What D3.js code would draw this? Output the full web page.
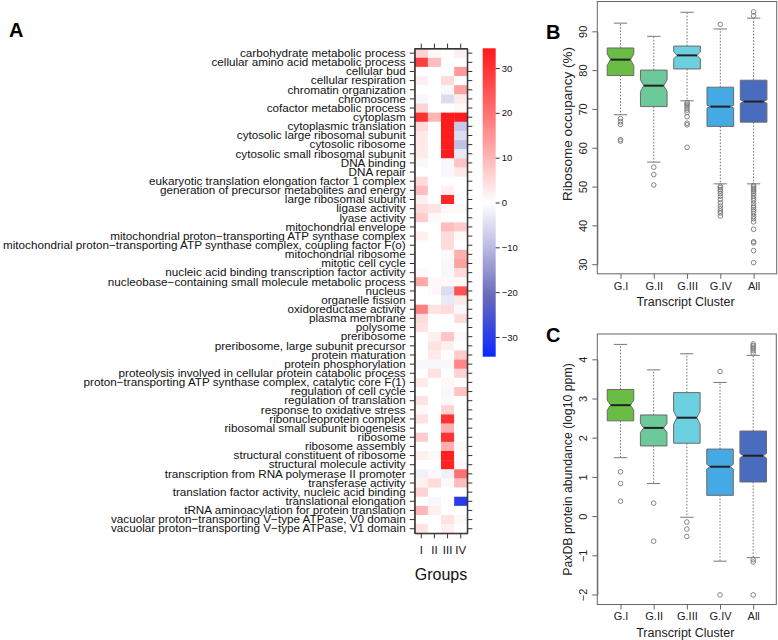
<!DOCTYPE html>
<html>
<head>
<meta charset="utf-8">
<script src="https://cdn.jsdelivr.net/npm/d3@7"></script>
<style>
  html, body { margin: 0; padding: 0; background: #fff; }
  svg { display: block; font-family: "Liberation Sans", Arial, Helvetica, sans-serif; }
</style>
</head>
<body>
<svg id="chart" width="778" height="640"></svg>
<script>
// ---------------- DATA ----------------
const heatTerms = [
  "carbohydrate metabolic process",
  "cellular amino acid metabolic process",
  "cellular bud",
  "cellular respiration",
  "chromatin organization",
  "chromosome",
  "cofactor metabolic process",
  "cytoplasm",
  "cytoplasmic translation",
  "cytosolic large ribosomal subunit",
  "cytosolic ribosome",
  "cytosolic small ribosomal subunit",
  "DNA binding",
  "DNA repair",
  "eukaryotic translation elongation factor 1 complex",
  "generation of precursor metabolites and energy",
  "large ribosomal subunit",
  "ligase activity",
  "lyase activity",
  "mitochondrial envelope",
  "mitochondrial proton\u2212transporting ATP synthase complex",
  "mitochondrial proton\u2212transporting ATP synthase complex, coupling factor F(o)",
  "mitochondrial ribosome",
  "mitotic cell cycle",
  "nucleic acid binding transcription factor activity",
  "nucleobase\u2212containing small molecule metabolic process",
  "nucleus",
  "organelle fission",
  "oxidoreductase activity",
  "plasma membrane",
  "polysome",
  "preribosome",
  "preribosome, large subunit precursor",
  "protein maturation",
  "protein phosphorylation",
  "proteolysis involved in cellular protein catabolic process",
  "proton\u2212transporting ATP synthase complex, catalytic core F(1)",
  "regulation of cell cycle",
  "regulation of translation",
  "response to oxidative stress",
  "ribonucleoprotein complex",
  "ribosomal small subunit biogenesis",
  "ribosome",
  "ribosome assembly",
  "structural constituent of ribosome",
  "structural molecule activity",
  "transcription from RNA polymerase II promoter",
  "transferase activity",
  "translation factor activity, nucleic acid binding",
  "translational elongation",
  "tRNA aminoacylation for protein translation",
  "vacuolar proton\u2212transporting V\u2212type ATPase, V0 domain",
  "vacuolar proton\u2212transporting V\u2212type ATPase, V1 domain"
];
const heatGroups = ["I", "II", "III", "IV"];
const heatI   = [6,28,0,2,0,-1,6,30,5,3,3,3,-1,0,5,9,2,5,7,0,2,0,0,0,1,12,0,0,18,5,4,0,0,0,-1,0,3,0,4,1,4,0,7,0,2,0,-2,2,6,0,10,0,4];
const heatII  = [1,9,0,0,0,0,0,10,0,0,0,0,0,0,0,0,0,4,1,0,0,0,0,0,0,1,1,0,4,0,0,2,4,3,-1,4,0,0,0,0,0,0,0,0,1,0,1,5,0,-1,2,0,0];
const heatIII = [0,0,0,5,-1,-5,0,34,34,34,34,34,-1,-1,0,2,32,1,0,9,5,5,1,-1,-1,1,-5,-3,5,0,0,8,2,0,-1,0,1,-1,1,6,30,11,30,11,33,33,-2,1,0,0,0,4,2];
const heatIV  = [2,0,14,0,13,3,1,34,-8,-5,-9,-3,8,3,0,0,0,1,0,7,1,0,11,13,5,1,25,3,-1,5,0,1,0,7,17,6,0,8,0,0,0,0,0,1,0,1,20,9,0,-30,0,1,0];
const colorTicks = [-30, -20, -10, 0, 10, 20, 30];

const clusters = ["G.I", "G.II", "G.III", "G.IV", "All"];
// Panel B: Ribosome occupancy (%)
const occLow    = [68.5, 56.3, 72.1, 50.7, 50.7];
const occQ1     = [78.6, 70.6, 80.3, 65.5, 66.6];
const occMedian = [82.7, 76.0, 83.8, 70.6, 71.9];
const occQ3     = [85.7, 80.0, 86.2, 75.6, 77.4];
const occHigh   = [92.1, 88.7, 94.9, 90.6, 93.4];
const occNotch  = [1.5, 1.5, 0.9, 0.35, 0.45];
const occOutliers = [
  [67.5, 66.7, 66.0, 62.1, 61.7],
  [55.0, 53.1, 50.4],
  [71.6, 71.2, 70.8, 70.3, 69.7, 69.1, 68.0, 66.3, 65.9, 60.1],
  [91.8, 50.1, 49.7, 49.2, 48.8, 48.2, 47.5, 46.7, 45.8, 45.0, 44.3, 43.7, 43.2, 42.4],
  [95.0, 94.0, 50.3, 49.9, 49.5, 49.1, 48.7, 48.2, 47.6, 47.0, 46.4, 45.7, 45.0, 44.6, 44.1, 43.6, 43.0, 42.3, 41.7, 40.9, 39.0, 35.8, 35.5, 33.5, 30.4]
];
const occTicks = [30, 40, 50, 60, 70, 80, 90];
// Panel C: PaxDB protein abundance (log10 ppm)
const paxLow    = [1.49, 0.83, -0.03, -1.15, -1.06];
const paxQ1     = [2.43, 1.79, 1.86, 0.53, 0.87];
const paxMedian = [2.83, 2.25, 2.51, 1.26, 1.54];
const paxQ3     = [3.23, 2.58, 3.15, 1.71, 2.17];
const paxHigh   = [4.38, 3.73, 4.14, 3.41, 4.10];
const paxNotch  = [0.13, 0.12, 0.17, 0.06, 0.06];
const paxOutliers = [
  [1.13, 0.83, 0.38],
  [0.33, -0.64],
  [-0.15, -0.33, -0.52],
  [3.69, -2.01],
  [4.39, 4.35, 4.31, 4.27, 4.22, 4.16, -1.11, -1.17, -2.01]
];
const paxTicks = [-2, -1, 0, 1, 2, 3, 4];

// ---------------- DRAWING ----------------
const svg = d3.select("#chart");
svg.append("rect").attr("width", 778).attr("height", 640).attr("fill", "#fff");
const minus = v => String(v).replace("-", "\u2212");

// ----- Panel A: heatmap -----
const hx = d3.scaleBand().domain(heatGroups).range([414.7, 467.3]);
const hy = d3.scaleBand().domain(heatTerms).range([48.6, 533.3]);
const colMax = 34.4;
const heatColor = d3.scaleLinear()
  .domain([-34.4, -20.6, -10.3, 0, 10.3, 20, 30, 34.4])
  .range(["#0a28ff", "#6a6cb8", "#b8b8e2", "#ffffff", "#ffb4b4", "#ff7272", "#ff3232", "#ff1a1a"])
  .interpolate(d3.interpolateRgb)
  .clamp(true);

const heatCols = [heatI, heatII, heatIII, heatIV];
const cells = [];
heatTerms.forEach((t, i) => heatGroups.forEach((g, j) => cells.push({ term: t, group: g, value: heatCols[j][i] })));

const gA = svg.append("g");
gA.selectAll("rect.cell").data(cells).join("rect")
  .attr("class", "cell")
  .attr("x", d => hx(d.group))
  .attr("y", d => hy(d.term))
  .attr("width", hx.bandwidth() + 0.3)
  .attr("height", hy.bandwidth() + 0.3)
  .attr("fill", d => heatColor(d.value));

gA.append("rect")
  .attr("x", 414.7).attr("y", 48.6).attr("width", 467.3 - 414.7).attr("height", 533.3 - 48.6)
  .attr("fill", "none").attr("stroke", "#333").attr("stroke-width", 1.1);

const styleAxis = (g, size) => {
  g.selectAll("path.domain").attr("stroke", "#333");
  g.selectAll(".tick line").attr("stroke", "#333");
  g.selectAll(".tick text").attr("fill", "#111").style("font-size", size + "px")
    .style("font-family", '"Liberation Sans", Arial, Helvetica, sans-serif');
};

const axL = gA.append("g").attr("transform", "translate(414.7,0)")
  .call(d3.axisLeft(hy).tickSize(5).tickSizeOuter(0).tickPadding(4));
styleAxis(axL, 11.7);
const axR = gA.append("g").attr("transform", "translate(467.3,0)")
  .call(d3.axisRight(hy).tickSize(5).tickSizeOuter(0).tickFormat(""));
styleAxis(axR, 10);
const axT = gA.append("g").attr("transform", "translate(0,48.6)")
  .call(d3.axisTop(hx).tickSize(5).tickSizeOuter(0).tickFormat(""));
styleAxis(axT, 10);
const axBt = gA.append("g").attr("transform", "translate(0,533.3)")
  .call(d3.axisBottom(hx).tickSize(5).tickSizeOuter(0).tickPadding(8));
styleAxis(axBt, 11.5);

gA.append("text").attr("x", 441).attr("y", 580).attr("text-anchor", "middle")
  .style("font-size", "16px").attr("fill", "#111").text("Groups");

// colour key
const ckTop = 48.3, ckBot = 356.7, ckX = 482.7, ckW = 13;
const cky = d3.scaleLinear().domain([-colMax, colMax]).range([ckBot, ckTop]);
const defs = svg.append("defs");
const grad = defs.append("linearGradient").attr("id", "ckgrad")
  .attr("x1", 0).attr("y1", 1).attr("x2", 0).attr("y2", 0);
d3.range(0, 41).forEach(k => {
  const v = -colMax + (2 * colMax) * k / 40;
  grad.append("stop").attr("offset", (k / 40)).attr("stop-color", heatColor(v));
});
gA.append("rect").attr("x", ckX).attr("y", ckTop).attr("width", ckW).attr("height", ckBot - ckTop)
  .attr("fill", "url(#ckgrad)");
const ckAxis = gA.append("g").attr("transform", `translate(${ckX + ckW},0)`)
  .call(d3.axisRight(cky).tickValues(colorTicks).tickSize(4).tickSizeOuter(0).tickPadding(2).tickFormat(minus));
ckAxis.select("path.domain").remove();
styleAxis(ckAxis, 9.5);

// panel letters
svg.append("text").attr("x", 9).attr("y", 37).style("font-size", "20px").style("font-weight", "bold").attr("fill", "#000").text("A");
svg.append("text").attr("x", 546).attr("y", 38.5).style("font-size", "20px").style("font-weight", "bold").attr("fill", "#000").text("B");
svg.append("text").attr("x", 546).attr("y", 341.5).style("font-size", "20px").style("font-weight", "bold").attr("fill", "#000").text("C");

// ----- Boxplot panels -----
const boxFill = ["#69bd45", "#6cc99a", "#6dd0e0", "#45aae4", "#4a6cbe"];

function boxPanel(cfg) {
  const g = svg.append("g");
  const x = d3.scalePoint().domain(clusters).range([cfg.x0 + 23.2, cfg.x1 - 23.1]);
  const y = d3.scaleLinear().domain(cfg.domain).range(cfg.range);
  const bw = x.step() * 0.8, hw = bw / 2, ind = hw * 0.25, cap = hw * 0.5;

  g.append("rect").attr("x", cfg.x0).attr("y", cfg.y0).attr("width", cfg.x1 - cfg.x0).attr("height", cfg.y1 - cfg.y0)
    .attr("fill", "none").attr("stroke", "#666").attr("stroke-width", 1);

  const stats = clusters.map((c, i) => ({
    c, i, low: cfg.low[i], q1: cfg.q1[i], med: cfg.med[i], q3: cfg.q3[i], high: cfg.high[i], notch: cfg.notch[i], out: cfg.out[i]
  }));

  const bg = g.selectAll("g.box").data(stats).join("g").attr("class", "box");
  bg.append("line").attr("x1", d => x(d.c)).attr("x2", d => x(d.c))
    .attr("y1", d => y(d.q3)).attr("y2", d => y(d.high))
    .attr("stroke", "#777").attr("stroke-dasharray", "1.6,1.6").attr("stroke-width", 1);
  bg.append("line").attr("x1", d => x(d.c)).attr("x2", d => x(d.c))
    .attr("y1", d => y(d.q1)).attr("y2", d => y(d.low))
    .attr("stroke", "#777").attr("stroke-dasharray", "1.6,1.6").attr("stroke-width", 1);
  bg.append("line").attr("x1", d => x(d.c) - cap).attr("x2", d => x(d.c) + cap)
    .attr("y1", d => y(d.high)).attr("y2", d => y(d.high)).attr("stroke", "#777").attr("stroke-width", 1);
  bg.append("line").attr("x1", d => x(d.c) - cap).attr("x2", d => x(d.c) + cap)
    .attr("y1", d => y(d.low)).attr("y2", d => y(d.low)).attr("stroke", "#777").attr("stroke-width", 1);
  bg.append("path")
    .attr("d", d => {
      const cx = x(d.c), xa = cx - hw, xb = cx + hw;
      const p = d3.path();
      p.moveTo(xa, y(d.q3)); p.lineTo(xb, y(d.q3));
      p.lineTo(xb, y(d.med + d.notch)); p.lineTo(xb - ind, y(d.med)); p.lineTo(xb, y(d.med - d.notch));
      p.lineTo(xb, y(d.q1)); p.lineTo(xa, y(d.q1));
      p.lineTo(xa, y(d.med - d.notch)); p.lineTo(xa + ind, y(d.med)); p.lineTo(xa, y(d.med + d.notch));
      p.closePath();
      return p.toString();
    })
    .attr("fill", (d, i) => boxFill[i]).attr("stroke", "#6a6a6a").attr("stroke-width", 1);
  bg.append("line").attr("x1", d => x(d.c) - hw + ind).attr("x2", d => x(d.c) + hw - ind)
    .attr("y1", d => y(d.med)).attr("y2", d => y(d.med)).attr("stroke", "#222").attr("stroke-width", 2);
  bg.selectAll("circle").data(d => d.out.map(v => ({ c: d.c, v }))).join("circle")
    .attr("cx", d => x(d.c)).attr("cy", d => y(d.v)).attr("r", 2.3)
    .attr("fill", "none").attr("stroke", "#777").attr("stroke-width", 0.9);

  const ya = g.append("g").attr("transform", `translate(${cfg.x0},0)`)
    .call(d3.axisLeft(y).tickValues(cfg.ticks).tickSize(5).tickSizeOuter(0).tickFormat(minus));
  ya.select("path.domain").attr("stroke", "#666");
  ya.selectAll(".tick line").attr("stroke", "#666");
  ya.selectAll(".tick text")
    .attr("x", 0).attr("dy", 0).attr("text-anchor", "middle")
    .attr("transform", "translate(-10.8,0) rotate(-90)")
    .attr("fill", "#222").style("font-size", "11px");
  const xa = g.append("g").attr("transform", `translate(0,${cfg.y1})`)
    .call(d3.axisBottom(x).tickSize(5).tickSizeOuter(0).tickPadding(3));
  xa.select("path.domain").remove();
  xa.selectAll(".tick line").attr("stroke", "#666");
  xa.selectAll(".tick text").attr("fill", "#222").style("font-size", "11px");

  g.append("text").attr("transform", `translate(571.5,${cfg.titleY}) rotate(-90)`)
    .attr("text-anchor", "middle").style("font-size", cfg.titleSize + "px").attr("fill", "#222").text(cfg.title);
  g.append("text").attr("x", (cfg.x0 + cfg.x1) / 2 - 1.5).attr("y", cfg.y1 + 32.5)
    .attr("text-anchor", "middle").style("font-size", "12.5px").attr("fill", "#222").text("Transcript Cluster");
}

boxPanel({
  x0: 597.3, x1: 776.7, y0: 1.5, y1: 273.8,
  domain: [30, 90], range: [264.2, 31.3], ticks: occTicks,
  low: occLow, q1: occQ1, med: occMedian, q3: occQ3, high: occHigh, notch: occNotch, out: occOutliers,
  title: "Ribosome occupancy (%)", titleY: 124, titleSize: 13.5
});
boxPanel({
  x0: 597.3, x1: 776.3, y0: 334, y1: 604.5,
  domain: [-2, 4], range: [594.5, 359.3], ticks: paxTicks,
  low: paxLow, q1: paxQ1, med: paxMedian, q3: paxQ3, high: paxHigh, notch: paxNotch, out: paxOutliers,
  title: "PaxDB protein abundance (log10 ppm)", titleY: 469.5, titleSize: 12.3
});
</script>
</body>
</html>
